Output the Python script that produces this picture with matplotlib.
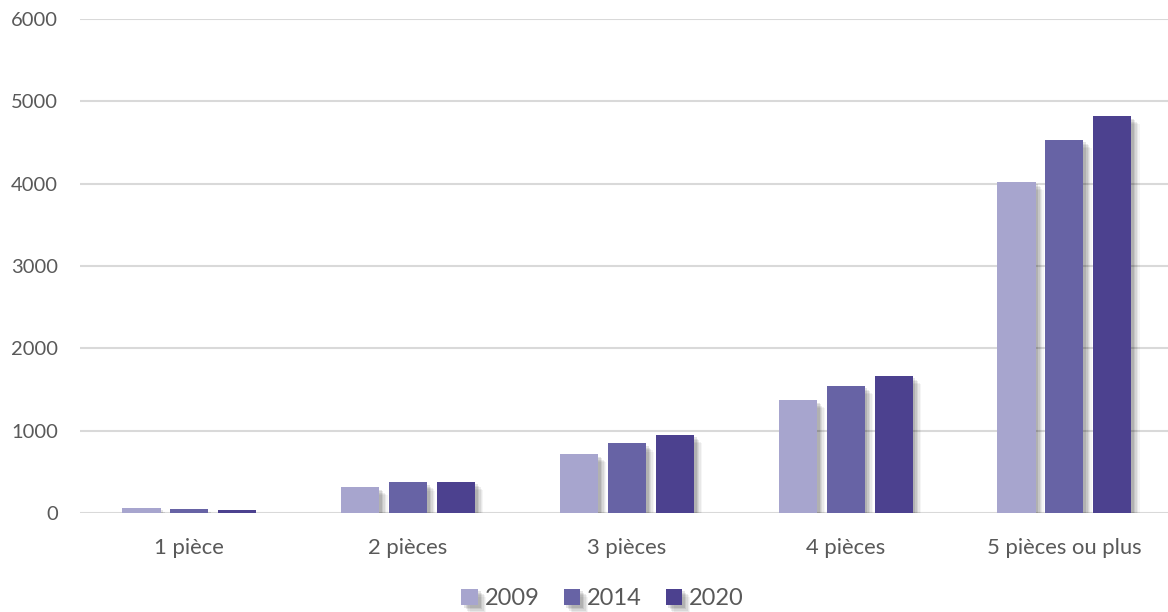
import numpy as np
import matplotlib
matplotlib.use('Agg')
import matplotlib.pyplot as plt
import matplotlib.patheffects as pe

# nombre de logements par nombre de pièces
categories = ['1 pièce', '2 pièces', '3 pièces', '4 pièces', '5 pièces ou plus']
annees = ['2009', '2014', '2020']
v2009 = [65, 315, 715, 1373, 4025]
v2014 = [50, 372, 846, 1547, 4535]
v2020 = [38, 380, 951, 1668, 4820]
couleurs = ['#A7A5CE', '#6763A5', '#4C418F']

plt.rcParams['font.family'] = ['Lato', 'DejaVu Sans']

fig = plt.figure(figsize=(11.68, 6.12), dpi=100)
ax = fig.add_axes([80 / 1168, 99 / 612, 1 - 80 / 1168, (513 - 19) / 612])

x = np.arange(len(categories))
largeur = 0.174
pas = 0.219

# ombre douce a droite des barres
ombre = [pe.SimplePatchShadow(offset=(d, -d), shadow_rgbFace='#000000', alpha=a)
         for d, a in [(6, 0.04), (5, 0.05), (4, 0.07), (3, 0.08), (2, 0.1)]] + [pe.Normal()]

for i, (serie, c, lab) in enumerate(zip([v2009, v2014, v2020], couleurs, annees)):
    barres = ax.bar(x + (i - 1) * pas, serie, width=largeur, color=c, label=lab, zorder=3)
    for b in barres:
        b.set_path_effects(ombre)

ax.set_ylim(0, 6000)
ax.set_xlim(-0.5, -0.5 + 1088 / 218.75)
ax.set_yticks(range(0, 6001, 1000))
ax.set_xticks(x)
ax.set_xticklabels(categories)
ax.grid(axis='y', color='#D9D9D9', linewidth=1.5, zorder=0)
for s in ax.spines.values():
    s.set_visible(False)
ax.tick_params(axis='both', length=0, colors='#595959')
ax.tick_params(axis='y', pad=16, labelsize=14.5)
ax.tick_params(axis='x', pad=18, labelsize=15.8)

fig.legend(loc='center', bbox_to_anchor=(0.516, 0.022), ncol=3, frameon=False,
           fontsize=17, labelcolor='#595959', handlelength=0.7, handleheight=0.7,
           handletextpad=0.3, columnspacing=1.0)

fig.savefig('out.png', dpi=100)
